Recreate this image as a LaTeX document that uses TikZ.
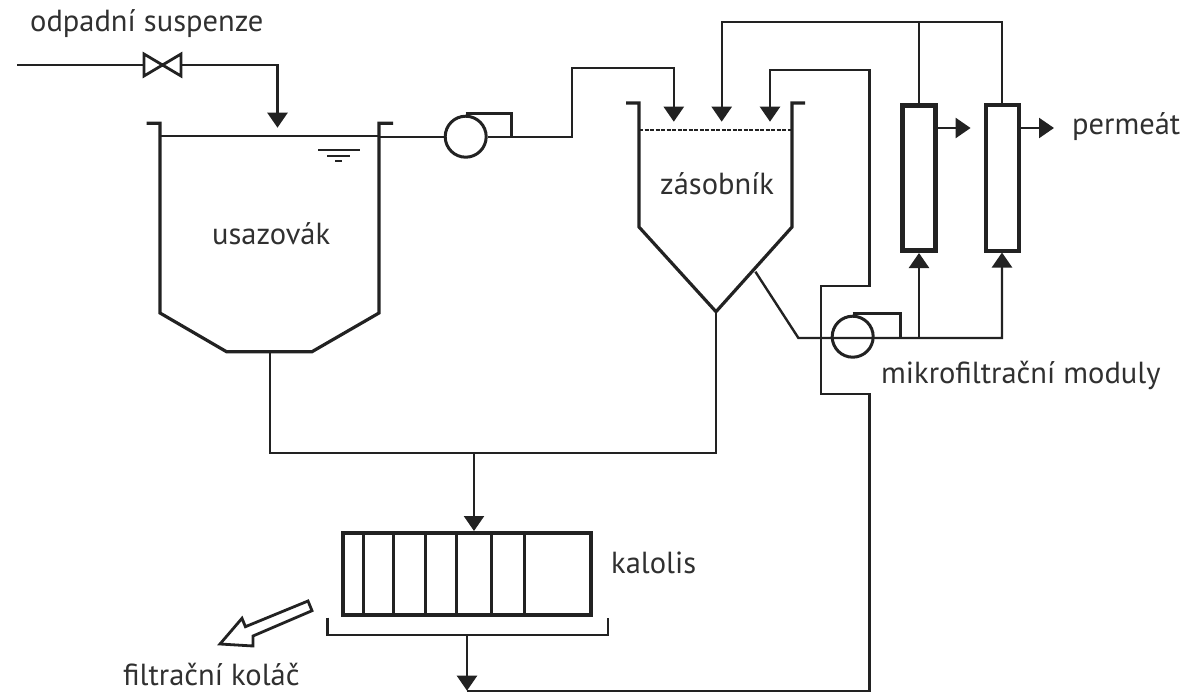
\documentclass[tikz,border=0pt]{standalone}
\usepackage{fontspec}
\setmainfont{PT Sans}
\usetikzlibrary{arrows.meta}
\definecolor{ink}{HTML}{222222}
\definecolor{txt}{HTML}{303030}
\tikzset{
  pipe/.style={draw=ink,line width=2.4pt,line join=miter},
  flow/.style={pipe,-{Triangle[length=15pt,width=20pt]}},
  wall/.style={draw=ink,line width=3.2pt,line join=miter},
  pump/.style={circle,draw=ink,line width=3pt,minimum size=41pt,inner sep=0pt},
  module/.style={rectangle,draw=ink,minimum width=33pt,minimum height=145pt,inner sep=0pt},
  label/.style={text=txt,font=\fontsize{30.5}{34}\selectfont,inner sep=0pt,anchor=base west},
}
\begin{document}
\begin{tikzpicture}[x=1pt,y=-1pt]
\useasboundingbox (0,0) rectangle (1187,693);
% labels
\node[label] (lsusp) at (30,32) {odpadní suspenze};
\node[label] (luso) at (212,244) {usazovák};
\node[label] (lzas) at (660,194) {zásobník};
\node[label] (lperm) at (1072,135) {permeát};
\node[label] (lmikro) at (881,383) {mikrofiltrační moduly};
\node[label] (lkal) at (611,573) {kalolis};
\node[label] (lkolac) at (123,685.5) {filtrační koláč};
% named points
\coordinate (in) at (17,65);
\coordinate (valveL) at (144,65);
\coordinate (valveR) at (181,65);
\coordinate (t1in) at (277.5,127.7);
\coordinate (t1out) at (379,136.7);
\coordinate (t1drain) at (270,351.7);
\coordinate (t2a) at (673.8,121.7);
\coordinate (t2b) at (721.7,121.7);
\coordinate (t2c) at (770,121.7);
\coordinate (t2apex) at (716,311.7);
\coordinate (t2side) at (755.4,271.7);
\coordinate (mix) at (474,452.7);
\coordinate (back) at (467,690.7);
% valve
\draw[pipe,line width=2.8pt] (144,54) -- (181,76) -- (181,54) -- (144,76) -- cycle;
% settling tank
\draw[wall] (146.6,123.3) -- (160,123.3) -- (160,313) -- (226.5,351.7) -- (312,351.7) -- (379,313) -- (379,123.3) -- (393,123.3);
\draw[pipe] (160,135.7) -- (379,135.7);
\draw[pipe] (318,150) -- (360,150) (327,155.7) -- (350,155.7) (335,161) -- (342,161);
% storage tank
\draw[wall] (626,103) -- (639,103) -- (639,227) -- (t2apex) -- (792,227) -- (792,103) -- (805,103);
\draw[pipe,dash pattern=on 4pt off 1.5pt] (639,130) -- (792,130);
% modules
\node[module,line width=5pt] (m1) at (919,178) {};
\node[module,line width=4pt] (m2) at (1002,178) {};
% pumps
\node[pump] (p1) at (465.7,136.7) {};
\node[pump] (p2) at (852.7,336.7) {};
\coordinate (p1bar) at (511.6,136.7);
\coordinate (p2bar) at (900.6,337);
\draw[wall] ([yshift=1.5pt]p1.north) -| (p1bar);
\draw[wall] ([yshift=1.5pt]p2.north) -| (p2bar);
% feed
\draw[pipe] (in) -- (valveL);
\draw[flow] (valveR) -| (t1in);
\draw[pipe] (t1out) -- (p1.west);
\draw[flow] (p1.east) -- (572,136.7) -- (572,68) -- (673.8,68) -- (t2a);
% recycle from modules
\draw[flow] (m2.north) -- (1002,22) -- (721.7,22) -- (t2b);
\draw[pipe] (m1.north) -- (919,22);
% filtrate return
\draw[flow] (back) -- (869.6,690.7) -- (869.6,394) -- (821,394) -- (821,286) -- (869.6,286) -- (869.6,70) -- (770,70) -- (t2c);
% circulation
\draw[flow] (t2side) -- (798.4,338) -- (1002,338) -- (m2.south);
\draw[flow] (919,338) -- (m1.south);
% outputs of modules
\coordinate (m1tip) at (970.6,128);
\coordinate (m2tip) at (1054,128);
\draw[flow] (m1.east |- m1tip) -- (m1tip);
\draw[flow] (m2.east |- m2tip) -- (m2tip);
% sludge
\draw[pipe] (t1drain) |- (mix) -| (t2apex);
\node[draw=ink,line width=4pt,minimum width=248pt,minimum height=82pt,inner sep=0pt] (press) at (466.5,574) {};
\draw[flow] (mix) -- (press.north -| mix);
\draw[pipe,line width=3pt] (363,533) -- (363,615);
\draw[pipe,line width=3pt] (393,533) -- (393,615);
\draw[pipe,line width=3pt] (425.5,533) -- (425.5,615);
\draw[pipe,line width=3pt] (456,533) -- (456,615);
\draw[pipe,line width=3pt] (491,533) -- (491,615);
\draw[pipe,line width=3pt] (524.5,533) -- (524.5,615);
\draw[pipe] (327.5,617.7) -- (327.5,634.7) -- (608,634.7) -- (608,617.7);
\coordinate (tray) at (467,634.7);
\draw[flow] (tray) -- (back);
% hollow arrow
\draw[pipe,line width=2.8pt,fill=white] (308,601) -- (312,610.7) -- (253,636) -- (253,646) -- (220,644) -- (242,618.3) -- (245.4,626.7) -- cycle;
\end{tikzpicture}
\end{document}
